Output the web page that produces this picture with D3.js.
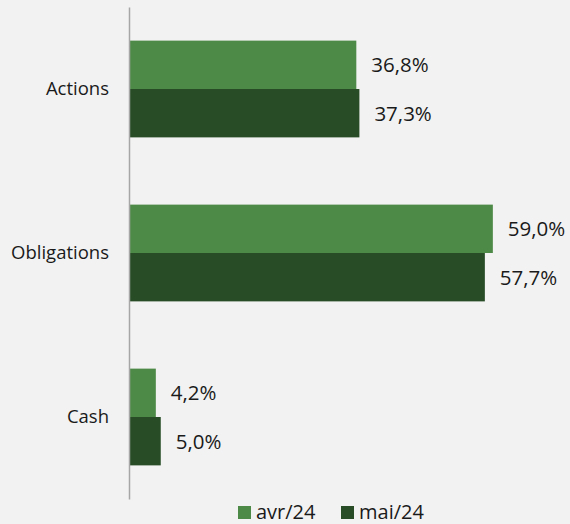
<!DOCTYPE html>
<html>
<head>
<meta charset="utf-8">
<script src="https://cdn.jsdelivr.net/npm/d3@7"></script>
<style>
  body { margin: 0; background: #f2f2f2; }
  svg { display: block; font-family: "Open Sans", sans-serif; }
</style>
</head>
<body>
<div id="cont"></div>
<script>
var categories = ["Actions", "Obligations", "Cash"];
var series = ["avr/24", "mai/24"];
var avr24 = [36.8, 59.0, 4.2];
var mai24 = [37.3, 57.7, 5.0];
var colors = ["#4e8a47", "#274c26"];

var width = 570, height = 524;

var svg = d3.select("#cont").append("svg")
  .attr("width", width)
  .attr("height", height);

svg.append("rect")
  .attr("width", width)
  .attr("height", height)
  .attr("fill", "#f2f2f2");

var yScale = d3.scaleBand()
  .domain(categories)
  .range([7, 499])
  .paddingInner(0.41)
  .paddingOuter(0.205);

var ySub = d3.scaleBand()
  .domain(series)
  .range([0, yScale.bandwidth()]);

var xScale = d3.scaleLinear()
  .domain([0, 60])
  .range([130, 499]);

var rows = categories.map(function(c, i) {
  return { cat: c, values: [avr24[i], mai24[i]] };
});

var groups = svg.selectAll(".grp")
  .data(rows)
  .enter().append("g")
  .attr("class", "grp")
  .attr("transform", function(d) {
    return "translate(0," + yScale(d.cat) + ")";
  });

groups.selectAll("rect")
  .data(function(d) {
    return d.values.map(function(v, j) { return { s: series[j], v: v, j: j }; });
  })
  .enter().append("rect")
  .attr("x", xScale(0))
  .attr("y", function(d) { return ySub(d.s); })
  .attr("width", function(d) { return xScale(d.v) - xScale(0); })
  .attr("height", ySub.bandwidth())
  .attr("fill", function(d) { return colors[d.j]; });

groups.selectAll(".val")
  .data(function(d) {
    return d.values.map(function(v, j) { return { s: series[j], v: v }; });
  })
  .enter().append("text")
  .attr("class", "val")
  .attr("x", function(d) { return xScale(d.v) + 15; })
  .attr("y", function(d) { return ySub(d.s) + ySub.bandwidth() / 2; })
  .attr("dy", "0.36em")
  .attr("font-size", 20.5)
  .attr("fill", "#1a1a1a")
  .text(function(d) { return d.v.toFixed(1).replace(".", ",") + "%"; });

// axis
var axis = svg.append("g")
  .attr("transform", "translate(129,0)")
  .call(d3.axisLeft(yScale).tickSize(0).tickPadding(20));

axis.select(".domain")
  .attr("stroke", "#a6a6a6")
  .attr("stroke-width", 1.5);

axis.selectAll("text")
  .attr("font-size", 18.5)
  .attr("font-family", "'Open Sans', sans-serif")
  .attr("fill", "#1a1a1a");

// legend
var legendX = [238, 341];
var legend = svg.selectAll(".leg")
  .data(series)
  .enter().append("g")
  .attr("class", "leg")
  .attr("transform", function(d, i) { return "translate(" + legendX[i] + ",506)"; });

legend.append("rect")
  .attr("width", 13)
  .attr("height", 13)
  .attr("fill", function(d, i) { return colors[i]; });

legend.append("text")
  .attr("x", 18)
  .attr("y", 13)
  .attr("font-size", 20)
  .attr("fill", "#1a1a1a")
  .text(function(d) { return d; });
</script>
</body>
</html>
